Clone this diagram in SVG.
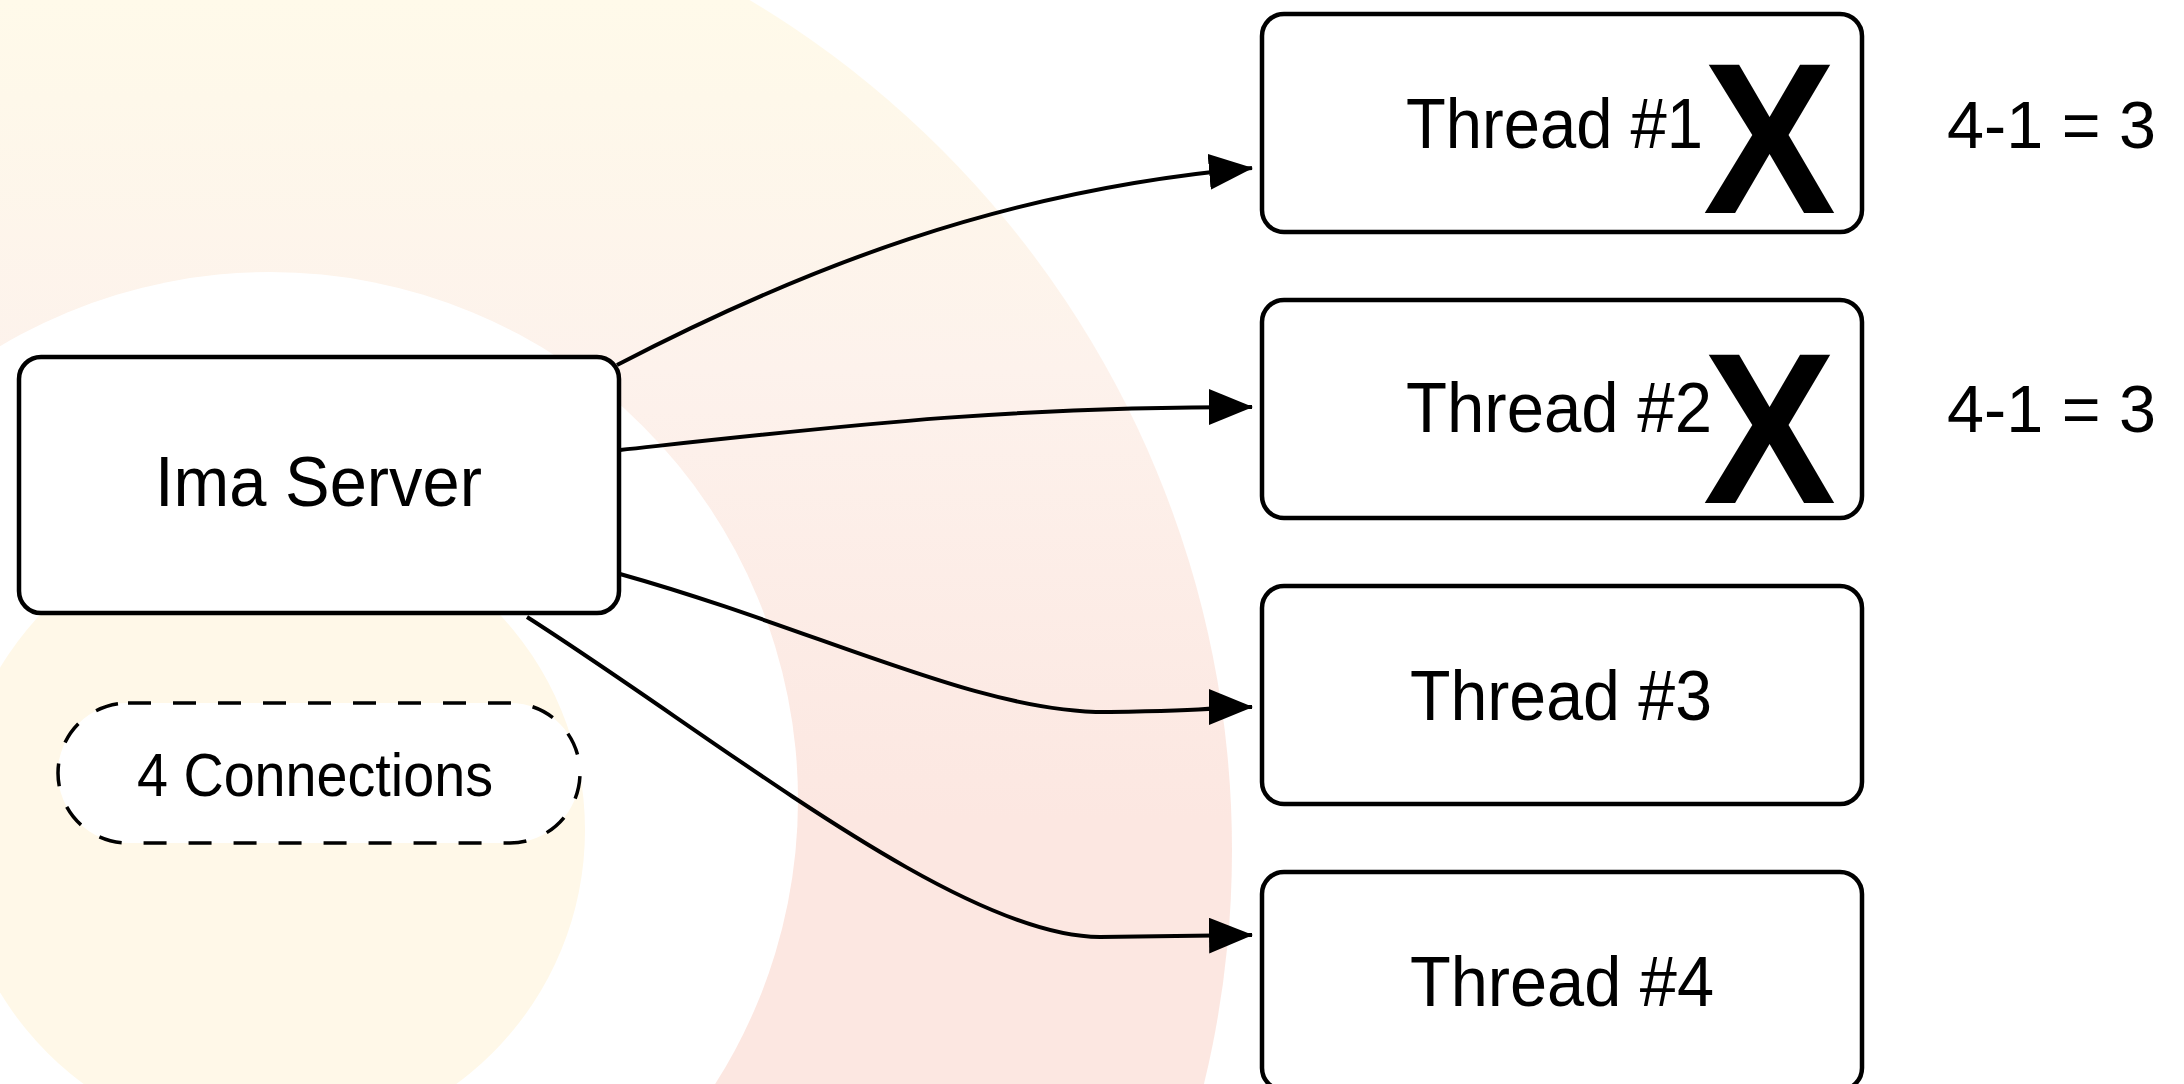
<svg xmlns="http://www.w3.org/2000/svg" width="2184" height="1084" viewBox="0 0 2184 1084">
  <style>
    .box { fill: #ffffff; stroke: #000000; stroke-width: 4.5; }
    .pill { fill: #ffffff; stroke: #000000; stroke-width: 3.5; stroke-dasharray: 23 22; }
    .label { font-family: "Liberation Sans", Arial, sans-serif; fill: #000000; }
    .cross { font-family: "Liberation Sans", Arial, sans-serif; font-weight: bold; fill: #000000; }
    .edge { fill: none; stroke: #000000; stroke-width: 4; marker-end: url(#arrow); }
  </style>
  <defs>
    <linearGradient id="halo" gradientUnits="userSpaceOnUse" x1="0" y1="0" x2="0" y2="820">
      <stop offset="0" stop-color="#fffaea"/>
      <stop offset="0.12" stop-color="#fef8ea"/>
      <stop offset="0.45" stop-color="#fdf2ec"/>
      <stop offset="1" stop-color="#fce7e1"/>
    </linearGradient>
    <marker id="arrow" markerUnits="userSpaceOnUse" viewBox="0 0 44 36" refX="43" refY="18" markerWidth="44" markerHeight="36" orient="auto">
      <path d="M0,0 L44,18 L0,36 Z" fill="#000000"/>
    </marker>
  </defs>

  <!-- background rings -->
  <g id="background">
    <rect x="0" y="0" width="2184" height="1084" fill="#ffffff"/>
    <circle cx="242" cy="850" r="990" fill="url(#halo)"/>
    <circle cx="270" cy="800" r="528" fill="#ffffff"/>
    <circle cx="270" cy="830" r="315" fill="#fff8e8"/>
  </g>

  <!-- connectors -->
  <g id="connectors">
    <path class="edge" d="M617,365 C800,270 1000,190 1252,168"/>
    <path class="edge" d="M620,450 C850,425 1000,407 1252,407"/>
    <path class="edge" d="M620,574 C820,630 980,714 1110,712 S1200,707 1252,707"/>
    <path class="edge" d="M527,617 C720,740 960,937 1100,937 L1252,935"/>
  </g>

  <g id="server">
    <rect class="box" x="19" y="357" width="600" height="256" rx="22"/>
    <text class="label" x="155" y="506" font-size="71" textLength="327" lengthAdjust="spacingAndGlyphs">Ima Server</text>
  </g>

  <g id="connections-note">
    <rect class="pill" x="58" y="703" width="522" height="140" rx="70"/>
    <text class="label" x="137" y="796" font-size="61" textLength="356" lengthAdjust="spacingAndGlyphs">4 Connections</text>
  </g>

  <g id="thread1">
    <rect class="box" x="1262" y="14" width="600" height="218" rx="22"/>
    <text class="label" x="1406" y="148" font-size="70" textLength="297" lengthAdjust="spacingAndGlyphs">Thread #1</text>
    <text class="cross" x="1703" y="213" font-size="216" textLength="133" lengthAdjust="spacingAndGlyphs">X</text>
  </g>

  <g id="thread2">
    <rect class="box" x="1262" y="300" width="600" height="218" rx="22"/>
    <text class="label" x="1406" y="432" font-size="70" textLength="306" lengthAdjust="spacingAndGlyphs">Thread #2</text>
    <text class="cross" x="1703" y="503" font-size="216" textLength="133" lengthAdjust="spacingAndGlyphs">X</text>
  </g>

  <g id="thread3">
    <rect class="box" x="1262" y="586" width="600" height="218" rx="22"/>
    <text class="label" x="1410" y="720" font-size="70" textLength="302" lengthAdjust="spacingAndGlyphs">Thread #3</text>
  </g>

  <g id="thread4">
    <rect class="box" x="1262" y="872" width="600" height="218" rx="22"/>
    <text class="label" x="1410" y="1006" font-size="70" textLength="304" lengthAdjust="spacingAndGlyphs">Thread #4</text>
  </g>

  <g id="counts">
    <text class="label" x="1947" y="148" font-size="66" textLength="209" lengthAdjust="spacingAndGlyphs">4-1 = 3</text>
    <text class="label" x="1947" y="432" font-size="66" textLength="209" lengthAdjust="spacingAndGlyphs">4-1 = 3</text>
  </g>
</svg>
